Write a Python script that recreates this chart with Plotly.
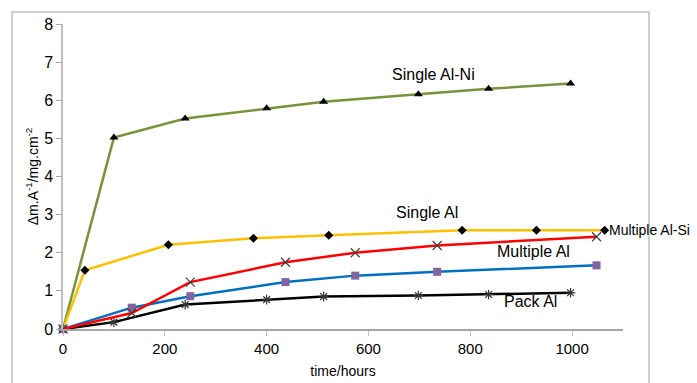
import plotly.graph_objects as go

# time (hours)
t_alni = [0, 100, 240, 400, 512, 698, 836, 997]
y_alni = [0, 5.02, 5.52, 5.79, 5.96, 6.16, 6.30, 6.44]

t_single = [0, 43, 207, 374, 522, 784, 930, 1064]
y_single = [0, 1.54, 2.21, 2.38, 2.46, 2.59, 2.59, 2.59]

t_pack = [0, 100, 240, 400, 512, 698, 836, 997]
y_pack = [0, 0.18, 0.64, 0.77, 0.85, 0.88, 0.905, 0.95]

t_multi = [0, 135, 250, 437, 574, 735, 1048]
y_multi_al = [0, 0.42, 1.23, 1.75, 2.00, 2.19, 2.42]
y_multi_alsi = [0, 0.56, 0.86, 1.23, 1.40, 1.50, 1.67]

x_ticks = [0, 200, 400, 600, 800, 1000]
y_ticks = [0, 1, 2, 3, 4, 5, 6, 7, 8]

FONT = "Liberation Sans, Arial, sans-serif"

fig = go.Figure()

fig.add_trace(go.Scatter(x=t_alni, y=y_alni, mode="lines+markers", name="Single Al-Ni",
                         line=dict(color="#77933C", width=2.5),
                         marker=dict(symbol="triangle-up", size=8, color="#000000")))
fig.add_trace(go.Scatter(x=t_single, y=y_single, mode="lines+markers", name="Single Al",
                         line=dict(color="#FFC000", width=2.5),
                         marker=dict(symbol="diamond", size=7, color="#000000")))
fig.add_trace(go.Scatter(x=t_pack, y=y_pack, mode="lines+markers", name="Pack Al",
                         line=dict(color="#000000", width=2.5),
                         marker=dict(symbol="asterisk-open", size=8, color="#333333",
                                     line=dict(width=1.2, color="#333333"))))
fig.add_trace(go.Scatter(x=t_multi, y=y_multi_alsi, mode="lines+markers", name="Multiple Al-Si",
                         line=dict(color="#0070C0", width=2.5),
                         marker=dict(symbol="square", size=8, color="#8064A2")))
fig.add_trace(go.Scatter(x=t_multi, y=y_multi_al, mode="lines+markers", name="Multiple Al",
                         line=dict(color="#FF0000", width=2.5),
                         marker=dict(symbol="x-thin-open", size=9, color="#404040",
                                     line=dict(width=1.2, color="#404040"))))

for tr in fig.data:
    tr.cliponaxis = False

labels = [
    ("Single Al-Ni", 727, 6.68, "center", 16),
    ("Single Al", 715, 3.05, "center", 16),
    ("Multiple Al", 924, 2.03, "center", 16),
    ("Pack Al", 918, 0.71, "center", 16),
    ("Multiple Al-Si", 1068, 2.59, "left", 14),
]
for txt, lx, ly, anc, fs in labels:
    fig.add_annotation(x=lx, y=ly, text=txt, showarrow=False, xanchor=anc, yanchor="middle",
                       font=dict(family=FONT, size=fs, color="#000000"))

# chart-area border
fig.add_shape(type="rect", xref="paper", yref="paper", x0=-0.091, x1=1.0464, y0=-0.25, y1=1.039,
              line=dict(color="#BFBFBF", width=1.5), layer="below")

fig.update_layout(
    width=697, height=383,
    margin=dict(l=63, r=74, t=24, b=53.5, autoexpand=False),
    paper_bgcolor="white", plot_bgcolor="white",
    showlegend=False,
    font=dict(family=FONT, size=15, color="#000000"),
    xaxis=dict(range=[0, 1100], tickvals=x_ticks, ticks="outside", ticklen=5, tickcolor="#BFBFBF",
               showline=True, linecolor="#A6A6A6", linewidth=1.5, showgrid=False, zeroline=False,
               tickfont=dict(size=15), automargin=False,
               title=dict(text="time/hours", font=dict(size=14), standoff=10)),
    yaxis=dict(range=[0, 8], tickvals=y_ticks, ticks="outside", ticklen=5, tickcolor="#A6A6A6",
               showline=True, linecolor="#BFBFBF", linewidth=1.5, showgrid=False, zeroline=False,
               tickfont=dict(size=16), automargin=False,
               title=dict(text="Δm.A<sup>-1</sup>/mg.cm<sup>-2</sup>", font=dict(size=14), standoff=2)),
)

fig.write_html("out.html")
